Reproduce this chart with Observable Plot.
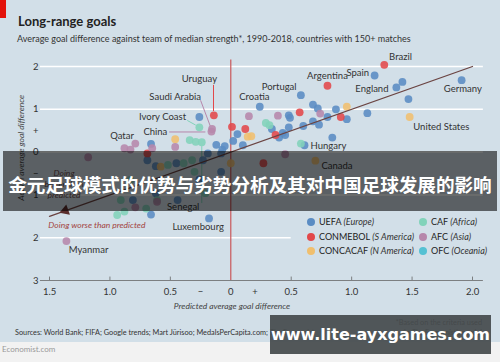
<!DOCTYPE html>
<html><head><meta charset="utf-8">
<script src="https://cdn.jsdelivr.net/npm/d3@7"></script>
<script src="https://cdn.jsdelivr.net/npm/@observablehq/plot@0.6"></script>
<style>
body{margin:0;background:#fff;}
#wrap{position:relative;width:500px;height:362px;background:#f2f2f2;overflow:hidden;font-family:Lato,"Noto Sans",sans-serif;}
#bg{position:absolute;left:0;top:0;width:500px;height:342px;background:#d2dfe8;}
#tag{position:absolute;left:0;top:0;width:6px;height:18px;background:#e3120b;}
#title{position:absolute;left:18px;top:15px;font-size:13px;font-weight:bold;color:#222;line-height:1;}
#sub{position:absolute;left:17px;top:34px;font-size:9px;color:#333;line-height:1;white-space:nowrap;}
#chart{position:absolute;left:0;top:45px;}
#chart svg{overflow:visible;}
.leg{position:absolute;font-size:9px;color:#222;line-height:1;white-space:nowrap;}
.leg i{color:#333;}
.leg .d{display:inline-block;width:8px;height:8px;border-radius:50%;margin-right:4px;vertical-align:-1px;}
#src{position:absolute;left:15px;top:329px;font-size:7.3px;color:#333;white-space:nowrap;line-height:1;}
#note{position:absolute;right:18px;top:318px;font-size:7.3px;color:#333;text-align:right;line-height:10px;}
#econ{position:absolute;left:2px;top:344px;font-size:8px;color:#999;}
#banner{position:absolute;left:3px;top:151px;width:494px;height:60px;background:rgba(0,0,0,0.57);color:#fff;font-family:"Noto Sans CJK SC",sans-serif;font-weight:bold;font-size:18.6px;line-height:60px;text-align:center;white-space:nowrap;padding-top:3px;box-sizing:border-box;}
#wm{position:absolute;left:270px;top:315px;width:221px;height:39px;background:rgba(70,75,78,0.93);color:#fff;font-family:"DejaVu Sans",sans-serif;font-weight:bold;font-size:16px;line-height:39px;text-align:center;white-space:nowrap;}
</style></head>
<body>
<div id="wrap">
  <div id="bg"></div>
  <div id="tag"></div>
  <div id="title">Long-range goals</div>
  <div id="sub">Average goal difference against team of median strength*, 1990-2018, countries with 150+ matches</div>
  <div id="chart"></div>
  <div id="legend"></div>
  <div id="src">Sources: World Bank; FIFA; Google trends; Mart Jürisoo; MedalsPerCapita.com; <i>The Economist</i></div>
  <div id="note">*Based on the criteria used<br>in <i>The Economist's</i> model</div>
  <div id="econ">Economist.com</div>
  <div id="banner">金元足球模式的优势与劣势分析及其对中国足球发展的影响</div>
  <div id="wm">www.lite-ayxgames.com</div>
</div>
<script>
// ---- data ----
const confedNames = ["UEFA", "CONMEBOL", "CONCACAF", "CAF", "AFC", "OFC"];
const confedRegions = ["Europe", "S America", "N America", "Africa", "Asia", "Oceania"];
const confedColors = ["#5a8cc3", "#e2484a", "#f0bf6e", "#82d3ba", "#b687ab", "#55c1d3"];

const predicted = [
  // UEFA
  1.19, 1.37, 1.42, 1.91, 0.58, 0.24, 1.47, 0.68, 0.72, 0.87, 0.80, 0.96, 1.13, 0.48, 0.49, 0.68,
  0.60, 0.73, 0.48, 0.34, 0.40, 0.45, 0.84, 0.61, 0.43, -0.26, 0.055, 0.02, 0.10, -0.66, -0.12, -0.07,
  -0.05, -0.69, -0.62, -0.45, -0.23, -0.19, -0.08, -0.26, -0.08, -0.62, -0.81, -0.44, -0.66, -0.18,
  // CONMEBOL
  1.27, 0.80, -0.14, 0.57, 0.91, 0.37, 0.01, 0.12, 0.27, -0.69,
  // CONCACAF
  1.48, 0.96, 0.17, 0.14, 0.70, -0.46, -0.58, 0.0,
  // CAF
  -0.26, 0.32, 0.29, 0.58, -0.34, -0.29, -0.24, -0.52, -0.39, -0.32, -0.30, -0.83, -0.21, -0.91, -0.61, -0.70, -0.94, -0.88,
  // AFC
  -0.155, -0.16, 0.74, 0.39, 0.15, -0.88, -0.79, -0.83, -0.65, -0.46, 0.45, -1.18, -0.79, -0.61, -1.36
];
const actual = [
  1.79, 1.51, 1.64, 1.68, 1.33, 1.06, 1.24, 1.11, 1.02, 1.00, 0.82, 0.77, 0.91, 0.86, 0.80, 0.72,
  0.61, 0.64, 0.58, 0.54, 0.34, 0.40, 0.34, 0.16, 0.45, 0.82, 0.42, 0.26, 0.16, 0.19, 0.17, 0.06,
  0.14, -0.19, -0.33, -0.26, -0.19, -0.03, -0.03, -0.64, -0.46, -0.96, -1.12, -1.12, -1.46, -1.55,
  2.04, 1.55, 0.86, 0.93, 0.82, 0.40, 0.59, 0.54, -0.26, -0.03,
  0.82, 1.06, 0.37, 0.36, -0.20, 0.30, -0.34, -0.26,
  0.58, 0.63, 0.68, 0.20, 0.28, 0.24, 0.23, -0.30, -0.26, -0.19, -0.46, -0.65, -0.96, -1.12, -1.12, -1.32, -1.47, -1.39,
  0.54, 0.48, 0.90, 0.85, 0.84, 0.09, 0.20, 0.06, 0.09, 0.12, -0.05, -0.12, -1.29, -1.16, -2.08
];
const confed = [
  ...Array(46).fill("UEFA"),
  ...Array(10).fill("CONMEBOL"),
  ...Array(8).fill("CONCACAF"),
  ...Array(18).fill("CAF"),
  ...Array(15).fill("AFC")
];

// country labels (anchor point of text, in data units)
const labelNames = ["Brazil", "Argentina", "Spain", "England", "Germany", "Portugal", "Croatia", "United States",
  "Uruguay", "Saudi Arabia", "Ivory Coast", "China", "Qatar", "Hungary", "Canada", "Senegal", "Luxembourg", "Myanmar"];
const labelX = [1.31, 0.80, 1.145, 1.305, 1.92, 0.40, 0.195, 1.51, -0.26, -0.46, -0.37, -0.525, -0.90, 0.66, 0.75, -0.26, -0.27, -1.34];
const labelY = [2.22, 1.78, 1.84, 1.47, 1.47, 1.53, 1.29, 0.59, 1.70, 1.29, 0.82, 0.47, 0.37, 0.14, -0.32, -1.28, -1.75, -2.29];
const labelAnchor = ["start", "middle", "end", "end", "middle", "middle", "middle", "start",
  "middle", "middle", "end", "end", "middle", "start", "start", "end", "middle", "start"];

// leader lines
const leaderX1 = [-0.143, -0.25, -0.36, -0.51, -0.24];
const leaderY1 = [1.57, 1.21, 0.74, 0.47, 0.14];
const leaderX2 = [-0.143, -0.17, -0.29, -0.21, -0.24];
const leaderY2 = [0.96, 0.61, 0.63, 0.47, -1.19];
const leaderConfed = ["CONMEBOL", "AFC", "CAF", "AFC", "CAF"];

const yTicks = [2, 1, 0.5, 0, -0.5, -1, -2, -3];
const yTickLabels = ["2", "1", "+", "0", "−", "1", "2", "3"];
const xTicks = [-1.5, -1, -0.5, -0.25, 0, 0.2, 0.5, 1, 1.5, 2];
const xTickLabels = ["1.5", "1.0", "0.5", "−", "0", "+", "0.5", "1.0", "1.5", "2.0"];
const xMajor = [-1.5, -1, -0.5, 0.5, 1, 1.5, 2];
const gridY = [2, 1, 0, -1];

// ---- build ----
const points = predicted.map((p, i) => ({pred: p, actual: actual[i], confed: confed[i]}));
const labels = labelNames.map((n, i) => ({name: n, x: labelX[i], y: labelY[i], anchor: labelAnchor[i]}));
const leaders = leaderX1.map((x, i) => ({x1: x, y1: leaderY1[i], x2: leaderX2[i], y2: leaderY2[i], confed: leaderConfed[i]}));
const yFmt = new Map(yTicks.map((t, i) => [t, yTickLabels[i]]));
const xFmt = new Map(xTicks.map((t, i) => [t, xTickLabels[i]]));
const colorOf = new Map(confedNames.map((c, i) => [c, confedColors[i]]));

const labelFont = {fontSize: 9.5, fill: "#333"};
const chart = Plot.plot({
  width: 500, height: 270,
  marginLeft: 49, marginRight: 28, marginTop: 21, marginBottom: 35,
  x: {domain: [-1.5, 2.0]},
  y: {domain: [-3, 2]},
  color: {domain: confedNames, range: confedColors},
  style: {background: "transparent", fontFamily: "Lato, sans-serif", overflow: "visible"},
  marks: [
    Plot.ruleY(gridY, {y: d => d, x1: -1.575, x2: 2.09, stroke: "white", strokeWidth: 1.5}),
    Plot.ruleY([-2], {y: d => d, x1: -1.575, x2: 0.5, stroke: "white", strokeWidth: 1.5}),
    Plot.ruleY([-3], {y: d => d, x1: -1.575, x2: 2.09, stroke: "#666", strokeWidth: 0.8}),
    Plot.ruleX(xMajor, {x: d => d, y1: -3, y2: -2.92, stroke: "#666", strokeWidth: 0.8}),
    Plot.ruleX([0], {x: d => d, y1: -3, y2: 2.15, stroke: "#c9585a", strokeWidth: 1.2}),
    Plot.axisY({ticks: yTicks, tickFormat: d => yFmt.get(d), tickSize: 0, tickPadding: 11, label: null, fontSize: 9.5, color: "#333"}),
    Plot.axisX({ticks: xTicks, tickFormat: d => xFmt.get(d), tickSize: 0, tickPadding: 8, label: null, fontSize: 9.5, color: "#333"}),
    Plot.text([0], {x: -1.73, y: 0.1, text: () => "Actual average goal difference", rotate: -90, fontSize: 8.5, fontStyle: "italic", fill: "#444"}),
    Plot.text([0], {x: 0.01, y: -3.6, text: () => "Predicted average goal difference", fontSize: 8.5, fontStyle: "italic", fill: "#444"}),
    Plot.link(leaders, {x1: "x1", y1: "y1", x2: "x2", y2: "y2", stroke: d => colorOf.get(d.confed), strokeWidth: 1}),
    Plot.dot(points, {x: "pred", y: "actual", fill: "confed", r: 3.9, fillOpacity: 0.88}),
    Plot.line([-1.5, 2.0], {x: d => d, y: d => d, stroke: "#6b4442", strokeWidth: 1.3}),
    Plot.dot([-1.37], {x: d => d, y: d => d, symbol: "triangle", r: 4, fill: "#5a2e2c", rotate: 250}),
    Plot.text(labels.filter(d => d.anchor === "start"), {x: "x", y: "y", text: "name", textAnchor: "start", ...labelFont}),
    Plot.text(labels.filter(d => d.anchor === "middle"), {x: "x", y: "y", text: "name", textAnchor: "middle", ...labelFont}),
    Plot.text(labels.filter(d => d.anchor === "end"), {x: "x", y: "y", text: "name", textAnchor: "end", ...labelFont}),
    Plot.text([0], {x: -1.51, y: -1.71, text: () => "Doing worse than predicted", textAnchor: "start", fontSize: 8.5, fontStyle: "italic", fill: "#a2443f"}),
    Plot.text([0], {x: -1.38, y: -0.74, text: () => "Doing\nbetter than\npredicted", textAnchor: "middle", lineHeight: 1.3, fontSize: 8.5, fontStyle: "italic", fill: "#6b4a48"})
  ]
});
document.getElementById("chart").appendChild(chart);

// legend (HTML, pixel layout)
const legend = document.getElementById("legend");
confedNames.forEach((c, i) => {
  const col = Math.floor(i / 3), row = i % 3;
  const el = document.createElement("div");
  el.className = "leg";
  el.style.left = (307 + col * 112) + "px";
  el.style.top = (217 + row * 14.5) + "px";
  el.innerHTML = `<span class="d" style="background:${confedColors[i]}"></span>${c} <i>(${confedRegions[i]})</i>`;
  legend.appendChild(el);
});
</script>
</body></html>
